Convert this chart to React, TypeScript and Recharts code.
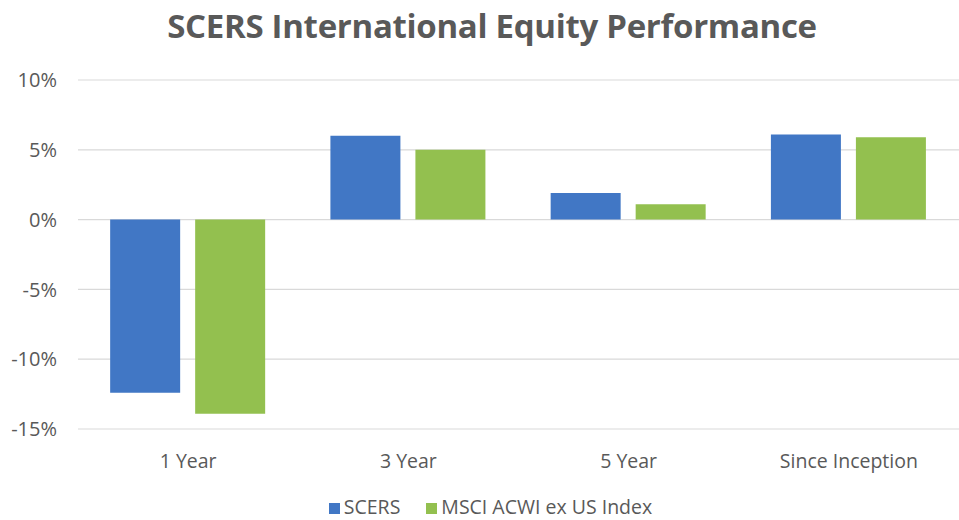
import React from "react";
import { BarChart, Bar, XAxis, YAxis, CartesianGrid, Legend } from "recharts";

const categories = ["1 Year", "3 Year", "5 Year", "Since Inception"];
const scersValues = [-12.4, 6.0, 1.9, 6.1];
const msciValues = [-13.9, 5.0, 1.1, 5.9];
const yTicks = [-15, -10, -5, 0, 5, 10];
const seriesNames = ["SCERS", "MSCI ACWI ex US Index"];
const title = "SCERS International Equity Performance";

const data = categories.map((c, i) => ({ name: c, scers: scersValues[i], msci: msciValues[i] }));

const TEXT = "#595959";
const FONT = "'Open Sans', sans-serif";

export default function App() {
  return (
    <div style={{ position: "absolute", left: 0, top: 0, width: 959, height: 520, background: "#fff", fontFamily: FONT }}>
      <div style={{ position: "absolute", top: 3, left: 0, width: 984, textAlign: "center", fontSize: 33, fontWeight: 700, color: TEXT, fontFamily: FONT, letterSpacing: -0.3 }}>
        {title}
      </div>
      <BarChart
        width={959}
        height={520}
        data={data}
        margin={{ top: 80, right: 0, bottom: 0, left: 0 }}
        barCategoryGap="14.6%"
        barGap={15}
      >
        <CartesianGrid vertical={false} stroke="#D9D9D9" strokeWidth={1.2} />
        <XAxis
          dataKey="name"
          axisLine={false}
          tickLine={false}
          tickSize={0}
          tickMargin={25}
          height={64}
          tick={{ fill: TEXT, fontSize: 19.5, fontFamily: FONT }}
        />
        <YAxis
          domain={[-15, 10]}
          ticks={yTicks}
          width={78}
          axisLine={false}
          tickLine={false}
          tickSize={0}
          tickMargin={21}
          tickFormatter={(v: number) => `${v}%`}
          tick={{ fill: TEXT, fontSize: 20, fontFamily: FONT }}
        />
        <Legend
          verticalAlign="bottom"
          iconType="square"
          iconSize={11}
          itemSorter={(item: any) => seriesNames.indexOf(item.value)}
          wrapperStyle={{ fontSize: 19.5, fontFamily: FONT, color: TEXT, paddingLeft: 24 }}
          formatter={(value: string) => <span style={{ color: TEXT, marginRight: 16 }}>{value}</span>}
        />
        <Bar dataKey="scers" name={seriesNames[0]} fill="#4177C5" isAnimationActive={false} />
        <Bar dataKey="msci" name={seriesNames[1]} fill="#93C04F" isAnimationActive={false} />
      </BarChart>
    </div>
  );
}
